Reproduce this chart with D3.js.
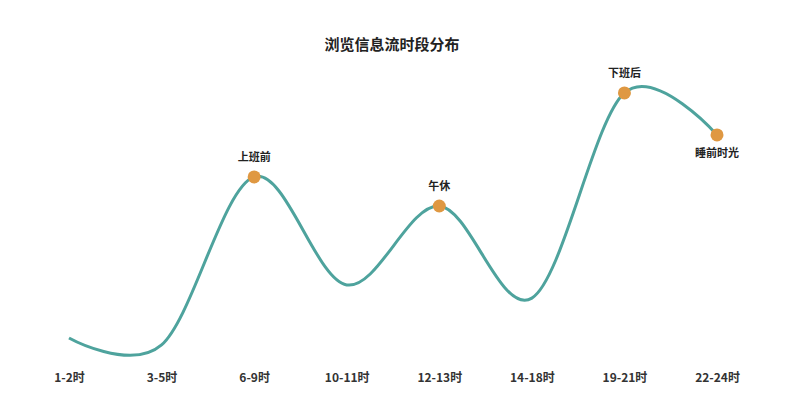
<!DOCTYPE html>
<html><head><meta charset="utf-8">
<script src="https://cdn.jsdelivr.net/npm/d3@7"></script>
<style>
html,body{margin:0;padding:0;background:#fff;}
svg{display:block;font-family:"Noto Sans CJK SC","Noto Sans",sans-serif;}
</style></head>
<body><svg id="c" width="800" height="413"></svg>
<script>
const categories = ["1-2时","3-5时","6-9时","10-11时","12-13时","14-18时","19-21时","22-24时"];
const values = [9, 6.7, 62.7, 26.7, 53, 22.3, 90.7, 76.7];
const markIndex = [2, 4, 6, 7];
const markLabels = ["上班前","午休","下班后","睡前时光"];
const markLabelBelow = [false, false, false, true];
const title = "浏览信息流时段分布";

const svg = d3.select("#c");
const x = d3.scalePoint().domain(categories).range([69, 717]);
const y = d3.scaleLinear().domain([0, 100]).range([365, 65]);

svg.append("text").attr("x", 392).attr("y", 50).attr("text-anchor", "middle")
  .attr("font-size", 15).attr("font-weight", "bold").attr("fill", "#222").text(title);

const line = d3.line().x((d, i) => x(categories[i])).y(d => y(d)).curve(d3.curveCardinal.tension(0));
svg.append("path").datum(values).attr("d", line).attr("fill", "none")
  .attr("stroke", "#4ea39d").attr("stroke-width", 3);

const axis = d3.axisBottom(x).tickSize(0).tickPadding(0);
const g = svg.append("g").attr("transform", "translate(0,373)").call(axis);
g.select(".domain").remove();
g.selectAll("text").attr("font-size", 12).attr("font-weight", "bold").attr("fill", "#333")
  .attr("font-family", '"Noto Sans CJK SC",sans-serif');

markIndex.forEach((idx, k) => {
  const cx = x(categories[idx]), cy = y(values[idx]);
  svg.append("circle").attr("cx", cx).attr("cy", cy).attr("r", 6.5).attr("fill", "#df9842");
  svg.append("text").attr("x", cx).attr("y", markLabelBelow[k] ? cy + 22 : cy - 16)
    .attr("text-anchor", "middle").attr("font-size", 11).attr("font-weight", "bold")
    .attr("fill", "#222").text(markLabels[k]);
});
</script></body></html>
